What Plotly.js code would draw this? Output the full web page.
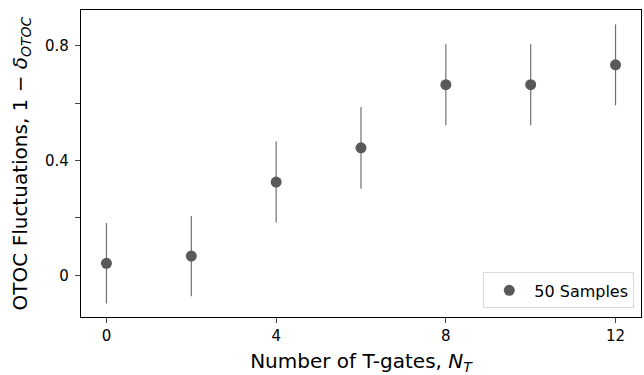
<!DOCTYPE html>
<html><head><meta charset="utf-8">
<script src="https://cdn.plot.ly/plotly-3.0.1.min.js"></script>
<style>html,body{margin:0;padding:0;background:#fff}</style>
</head><body>
<div id="chart" style="width:644px;height:375px"></div>
<script>
const nT = [0, 2, 4, 6, 8, 10, 12];
const fluct = [0.042, 0.067, 0.325, 0.444, 0.664, 0.664, 0.733];
const errs = [0.14, 0.14, 0.141, 0.142, 0.141, 0.141, 0.141];
const xTicks = [0, 4, 8, 12];
const yTicks = [0, 0.2, 0.4, 0.6, 0.8];
const yTickText = ['0', '', '0.4', '', '0.8'];
const seriesName = '50 Samples';

const font = 'DejaVu Sans, sans-serif';
Plotly.newPlot('chart', [{
  x: nT, y: fluct, type: 'scatter', mode: 'markers', name: seriesName,
  marker: {color: '#595959', size: 11},
  error_y: {type: 'data', array: errs, visible: true, color: '#707070', thickness: 1.2, width: 0}
}], {
  width: 644, height: 375,
  margin: {l: 81, r: 3, t: 10, b: 58},
  paper_bgcolor: '#fff', plot_bgcolor: '#fff',
  font: {family: font, color: '#000', size: 15},
  showlegend: true,
  legend: {x: 0.988, y: 0.028, xanchor: 'right', yanchor: 'bottom',
    bordercolor: '#d9d9d9', borderwidth: 1, bgcolor: '#fff', itemwidth: 40,
    font: {size: 16, family: font, color: '#000'}},
  xaxis: {range: [-0.6, 12.6], tickvals: xTicks, ticks: 'outside', ticklen: 5,
    showline: true, mirror: true, linecolor: '#000', linewidth: 1.2,
    showgrid: false, zeroline: false, tickfont: {size: 15},
    title: {text: 'Number of T-gates, <i>N</i><sub><i>T</i></sub>', font: {size: 20}, standoff: 10}},
  yaxis: {range: [-0.145, 0.924], tickvals: yTicks, ticktext: yTickText, ticks: 'outside', ticklen: 5,
    showline: true, mirror: true, linecolor: '#000', linewidth: 1.2,
    showgrid: false, zeroline: false, tickfont: {size: 15}, ticklabelstandoff: 3,
    title: {text: 'OTOC Fluctuations, 1 − <i>δ</i><sub><i>OTOC</i></sub>', font: {size: 20}, standoff: 12}}
}, {displayModeBar: false, staticPlot: true});
</script>
</body></html>
